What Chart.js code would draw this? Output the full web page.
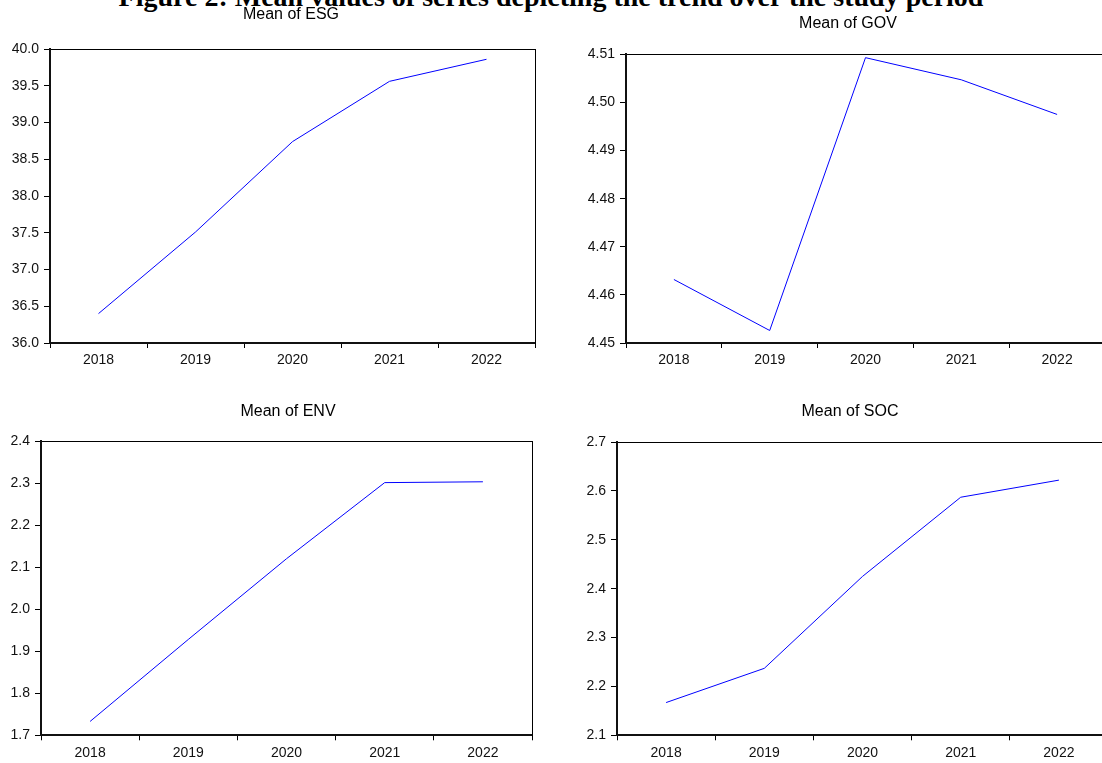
<!DOCTYPE html>
<html><head><meta charset="utf-8">
<script src="https://cdn.jsdelivr.net/npm/chart.js@4.4.1/dist/chart.umd.min.js"></script>
<style>
html,body{margin:0;padding:0;background:#fff;width:1102px;height:763px;overflow:hidden;position:relative}
canvas{position:absolute}
#fig{position:absolute;left:0;top:-17px;width:1102px;text-align:center;font:bold 28px "Liberation Serif","Times New Roman",serif;line-height:28px;white-space:nowrap;color:#000}
</style></head><body>
<div id="fig">Figure 2: Mean values of series depicting the trend over the study period</div>
<canvas id="cESG"></canvas>
<canvas id="cGOV"></canvas>
<canvas id="cENV"></canvas>
<canvas id="cSOC"></canvas>
<script>
// ---- data ----
const years = ['2018', '2019', '2020', '2021', '2022'];
const esgMean = [36.40, 37.51, 38.74, 39.56, 39.86];
const govMean = [4.4632, 4.4526, 4.5093, 4.5047, 4.4975];
const envMean = [1.733, 1.928, 2.12, 2.301, 2.303];
const socMean = [2.167, 2.237, 2.425, 2.587, 2.622];
const esgTicks = [36.0, 36.5, 37.0, 37.5, 38.0, 38.5, 39.0, 39.5, 40.0];
const govTicks = [4.45, 4.46, 4.47, 4.48, 4.49, 4.50, 4.51];
const envTicks = [1.7, 1.8, 1.9, 2.0, 2.1, 2.2, 2.3, 2.4];
const socTicks = [2.1, 2.2, 2.3, 2.4, 2.5, 2.6, 2.7];

// ---- layout (positions / sizes) ----
const panels = [
  {id:'cESG', title:'Mean of ESG', values:esgMean, ticks:esgTicks, dec:1,
   left:0, top:0, width:582, height:380, yw:50, rw:47, xh:37, tpt:5.4, tpb:24.4},
  {id:'cGOV', title:'Mean of GOV', values:govMean, ticks:govTicks, dec:2,
   left:560, top:0, width:576, height:380, yw:66, rw:31, xh:37, tpt:14.4, tpb:20.7},
  {id:'cENV', title:'Mean of ENV', values:envMean, ticks:envTicks, dec:1,
   left:0, top:380, width:576, height:383, yw:41, rw:44, xh:27.7, tpt:22.4, tpb:19.4},
  {id:'cSOC', title:'Mean of SOC', values:socMean, ticks:socTicks, dec:1,
   left:560, top:380, width:580, height:383, yw:57, rw:32, xh:27.7, tpt:22.4, tpb:20.4}
];

const FONT = '"Liberation Sans", Arial, Helvetica, sans-serif';

panels.forEach(p => {
  const cv = document.getElementById(p.id);
  cv.width = p.width; cv.height = p.height;
  cv.style.left = p.left + 'px'; cv.style.top = p.top + 'px';
  cv.style.width = p.width + 'px'; cv.style.height = p.height + 'px';
  const tmin = p.ticks[0], tmax = p.ticks[p.ticks.length - 1];
  new Chart(cv, {
    type: 'line',
    data: {
      labels: years,
      datasets: [{
        data: p.values,
        borderColor: '#0000ff',
        borderWidth: 1,
        pointRadius: 0,
        pointHoverRadius: 0,
        tension: 0,
        fill: false
      }]
    },
    options: {
      responsive: false,
      animation: false,
      devicePixelRatio: 1,
      events: [],
      layout: { padding: 0 },
      plugins: {
        legend: { display: false },
        tooltip: { enabled: false },
        title: {
          display: true,
          text: p.title,
          fullSize: true,
          color: '#000',
          font: { family: FONT, size: 16, weight: 'normal', lineHeight: 1.2 },
          padding: { top: p.tpt, bottom: p.tpb }
        }
      },
      scales: {
        x: {
          type: 'category',
          position: 'bottom',
          offset: true,
          grid: { offset: true, drawOnChartArea: false, drawTicks: true, tickLength: 5, color: '#000', lineWidth: 1 },
          border: { display: true, color: '#111', width: 2 },
          ticks: { color: '#111', font: { family: FONT, size: 14 }, padding: 4, maxRotation: 0, autoSkip: false },
          afterFit: s => { s.height = p.xh; }
        },
        x2: {
          type: 'category',
          position: 'top',
          offset: true,
          grid: { display: false, drawOnChartArea: false, drawTicks: false },
          border: { display: true, color: '#000', width: 1 },
          ticks: { display: false },
          afterFit: s => { s.height = 0; }
        },
        y: {
          type: 'linear',
          position: 'left',
          min: tmin, max: tmax,
          afterBuildTicks: s => { s.ticks = p.ticks.map(v => ({ value: v })); },
          grid: { drawOnChartArea: false, drawTicks: true, tickLength: 6, color: '#000', lineWidth: 1 },
          border: { display: true, color: '#111', width: 2 },
          ticks: { color: '#111', font: { family: FONT, size: 14 }, padding: 5,
                   callback: v => Number(v).toFixed(p.dec) },
          afterFit: s => { s.width = p.yw; }
        },
        y2: {
          type: 'linear',
          position: 'right',
          min: tmin, max: tmax,
          grid: { display: false, drawOnChartArea: false, drawTicks: false },
          border: { display: true, color: '#000', width: 1 },
          ticks: { display: false },
          afterFit: s => { s.width = p.rw; }
        }
      }
    }
  });
});
</script>
</body></html>
